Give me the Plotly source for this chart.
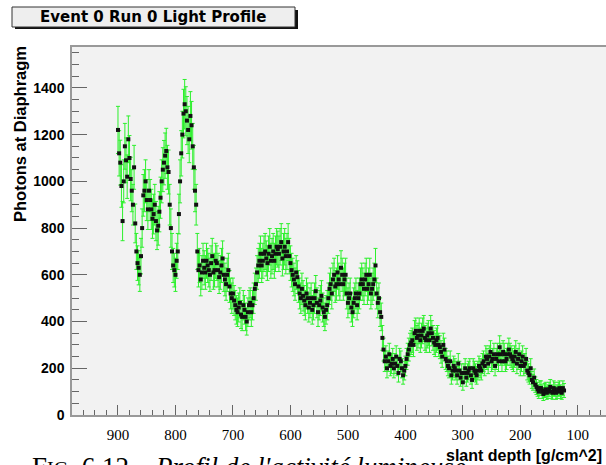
import plotly.graph_objects as go

DEPTH = [
    900, 896, 892, 888, 884, 880, 876, 872, 868, 864,
    860, 856, 852, 848, 844, 840, 836, 832, 828, 824,
    820, 816, 812, 808, 804, 800, 796, 792, 788, 784,
    780, 776, 772, 768, 764, 760, 756, 752, 748, 744,
    740, 736, 732, 728, 724, 720, 716, 712, 708, 704,
    700, 696, 692, 688, 684, 680, 676, 672, 668, 664,
    660, 656, 652, 648, 644, 640, 636, 632, 628, 624,
    620, 616, 612, 608, 604, 600, 596, 592, 588, 584,
    580, 576, 572, 568, 564, 560, 556, 552, 548, 544,
    540, 536, 532, 528, 524, 520, 516, 512, 508, 504,
    500, 496, 492, 488, 484, 480, 476, 472, 468, 464,
    460, 456, 452, 448, 444, 440, 436, 432, 428, 424,
    420, 416, 412, 408, 404, 400, 396, 392, 388, 384,
    380, 376, 372, 368, 364, 360, 356, 352, 348, 344,
    340, 336, 332, 328, 324, 320, 316, 312, 308, 304,
    300, 296, 292, 288, 284, 280, 276, 272, 268, 264,
    260, 256, 252, 248, 244, 240, 236, 232, 228, 224,
    220, 216, 212, 208, 204, 200, 196, 192, 188, 184,
    180, 176, 172, 168, 164, 160, 156, 152, 148, 144,
    140, 136, 132, 128, 124,
]

PHOTONS = [
    1220, 1080, 830, 1150, 1020, 1100, 960, 1060, 700, 630,
    680, 940, 1000, 880, 920, 840, 900, 790, 870, 1000,
    1080, 1130, 1040, 800, 640, 600, 700, 1000, 1200, 1330,
    1260, 1180, 1240, 1060, 900, 620, 580, 660, 610, 640,
    600, 680, 620, 650, 590, 640, 600, 560, 620, 520,
    520, 470, 440, 480, 420, 450, 400, 470, 440, 500,
    560, 640, 690, 660, 700, 650, 720, 680, 660, 720,
    690, 740, 700, 680, 740, 650, 600, 560, 590, 520,
    540, 490, 520, 460, 500, 470, 530, 440, 490, 460,
    420, 470, 540, 520, 600, 560, 580, 630, 560, 600,
    480, 520, 440, 500, 470, 520, 580, 540, 600, 560,
    520, 560, 640, 480, 440, 330, 230, 200, 260, 220,
    200, 250, 180, 230, 170, 210, 260, 300, 320, 350,
    330, 360, 340, 370, 320, 350, 370, 330, 300, 330,
    290, 250, 280, 230, 200, 170, 210, 190, 220, 160,
    140, 200, 180, 200, 150, 190, 170, 210, 190, 230,
    250, 220, 270, 240, 210, 260, 290, 230, 260, 240,
    280, 250, 230, 270, 240, 210, 250, 220, 190, 170,
    150, 160, 120, 100, 115, 90, 110, 100, 120, 95,
    110, 100, 115, 95, 105,
]

ERRORS = [
    101, 96, 84, 98, 93, 96, 90, 94, 77, 73,
    76, 89, 92, 86, 88, 84, 87, 82, 86, 92,
    95, 97, 94, 82, 73, 71, 77, 92, 100, 106,
    103, 100, 102, 94, 87, 72, 70, 75, 72, 73,
    71, 76, 72, 74, 70, 73, 71, 69, 72, 66,
    66, 63, 61, 64, 59, 61, 58, 63, 61, 65,
    69, 73, 76, 75, 77, 74, 78, 76, 75, 78,
    76, 79, 77, 76, 79, 74, 71, 69, 70, 66,
    67, 64, 66, 62, 65, 63, 67, 61, 64, 62,
    59, 63, 67, 66, 71, 69, 70, 73, 69, 71,
    64, 66, 61, 65, 63, 66, 70, 67, 71, 69,
    66, 69, 73, 64, 61, 53, 44, 41, 47, 43,
    41, 46, 39, 44, 38, 42, 47, 50, 52, 54,
    53, 55, 53, 56, 52, 54, 56, 53, 50, 53,
    49, 46, 49, 44, 41, 38, 42, 40, 43, 37,
    34, 41, 39, 41, 36, 40, 38, 42, 40, 44,
    46, 43, 48, 45, 42, 47, 49, 44, 47, 45,
    49, 46, 44, 48, 45, 42, 46, 43, 40, 38,
    36, 37, 32, 29, 31, 28, 30, 29, 32, 28,
    30, 29, 31, 28, 30,
]

DEPTH_MID = [
    898, 894, 890, 886, 882, 878, 874, 870, 866, 862,
    858, 854, 850, 846, 842, 838, 834, 830, 826, 822,
    818, 814, 810, 806, 802, 798, 794, 790, 786, 782,
    778, 774, 770, 766, 762, 758, 754, 750, 746, 742,
    738, 734, 730, 726, 722, 718, 714, 710, 706, 702,
    698, 694, 690, 686, 682, 678, 674, 670, 666, 662,
    658, 654, 650, 646, 642, 638, 634, 630, 626, 622,
    618, 614, 610, 606, 602, 598, 594, 590, 586, 582,
    578, 574, 570, 566, 562, 558, 554, 550, 546, 542,
    538, 534, 530, 526, 522, 518, 514, 510, 506, 502,
    498, 494, 490, 486, 482, 478, 474, 470, 466, 462,
    458, 454, 450, 446, 442, 438, 434, 430, 426, 422,
    418, 414, 410, 406, 402, 398, 394, 390, 386, 382,
    378, 374, 370, 366, 362, 358, 354, 350, 346, 342,
    338, 334, 330, 326, 322, 318, 314, 310, 306, 302,
    298, 294, 290, 286, 282, 278, 274, 270, 266, 262,
    258, 254, 250, 246, 242, 238, 234, 230, 226, 222,
    218, 214, 210, 206, 202, 198, 194, 190, 186, 182,
    178, 174, 170, 166, 162, 158, 154, 150, 146, 142,
    138, 134, 130, 126,
]

PHOTONS_MID = [
    1120, 980, 1000, 1090, 1180, 1010, 900, 820, 650, 600,
    800, 960, 920, 960, 880, 860, 830, 810, 930, 1050,
    1110, 1060, 900, 700, 620, 660, 860, 1120, 1290, 1300,
    1220, 1280, 1150, 960, 700, 640, 610, 630, 660, 620,
    650, 610, 660, 620, 610, 670, 580, 600, 550, 500,
    490, 450, 460, 430, 470, 420, 440, 480, 470, 540,
    610, 660, 640, 690, 670, 690, 660, 700, 690, 710,
    720, 670, 720, 700, 680, 620, 580, 610, 550, 500,
    510, 470, 500, 480, 450, 500, 480, 470, 510, 440,
    450, 500, 560, 580, 550, 610, 560, 600, 580, 520,
    500, 460, 480, 520, 500, 560, 560, 580, 540, 600,
    540, 580, 520, 500, 420, 280, 250, 230, 210, 240,
    220, 210, 240, 200, 190, 240, 280, 310, 300, 360,
    340, 320, 360, 330, 340, 320, 350, 310, 320, 300,
    270, 300, 240, 210, 230, 190, 200, 170, 190, 180,
    180, 160, 190, 170, 200, 180, 190, 200, 220, 210,
    240, 250, 230, 260, 240, 230, 260, 270, 230, 260,
    260, 240, 250, 220, 260, 230, 210, 240, 180, 200,
    140, 130, 110, 115, 100, 105, 95, 110, 100, 115,
    95, 110, 100, 115,
]

ERRORS_MID = [
    97, 91, 92, 96, 100, 93, 87, 83, 74, 71,
    82, 90, 88, 90, 86, 85, 84, 83, 88, 94,
    97, 94, 87, 77, 72, 75, 85, 97, 104, 105,
    101, 104, 98, 90, 77, 73, 72, 73, 75, 72,
    74, 72, 75, 72, 72, 75, 70, 71, 68, 65,
    64, 61, 62, 60, 63, 59, 61, 64, 63, 67,
    72, 75, 73, 76, 75, 76, 75, 77, 76, 77,
    78, 75, 78, 77, 76, 72, 70, 72, 68, 65,
    65, 63, 65, 64, 61, 65, 64, 63, 65, 61,
    61, 65, 69, 70, 68, 72, 69, 71, 70, 66,
    65, 62, 64, 66, 65, 69, 69, 70, 67, 71,
    67, 70, 66, 65, 59, 49, 46, 44, 42, 45,
    43, 42, 45, 41, 40, 45, 49, 51, 50, 55,
    53, 52, 55, 53, 53, 52, 54, 51, 52, 50,
    48, 50, 45, 42, 44, 40, 41, 38, 40, 39,
    39, 37, 40, 38, 41, 39, 40, 41, 43, 42,
    45, 46, 44, 47, 45, 44, 47, 48, 44, 47,
    47, 45, 46, 43, 47, 44, 42, 45, 39, 41,
    34, 33, 30, 31, 29, 30, 28, 30, 29, 31,
    28, 30, 29, 31,
]

X_TICKS = [900, 800, 700, 600, 500, 400, 300, 200, 100]
Y_TICKS = [0, 200, 400, 600, 800, 1000, 1200, 1400]

TITLE = "Event 0 Run 0 Light Profile"
X_TITLE = "slant depth [g/cm^2]"
Y_TITLE = "Photons at Diaphragm"
CAPTION = "F<span style='font-size:20px'>IG</span>. 6.12 – <i>Profil de l'activité lumineuse</i>"

W, H = 606, 465
L, R, T, B = 72, 0, 47, 50
PW, PH = W - L - R, H - T - B


def px(x):
    return (x - L) / PW


def py(y):
    return (H - B - y) / PH


fig = go.Figure()
fig.add_trace(go.Scatter(
    x=DEPTH + DEPTH_MID, y=PHOTONS + PHOTONS_MID, mode="markers",
    marker=dict(symbol="square", size=4, color="#111111", line=dict(width=0)),
    error_y=dict(type="data", array=ERRORS + ERRORS_MID, visible=True, color="#2cf02c",
                 thickness=1, width=2),
    showlegend=False, hoverinfo="x+y",
))

sans = "Liberation Sans, Arial, sans-serif"

fig.update_layout(
    width=W, height=H,
    margin=dict(l=L, r=R, t=T, b=B, pad=0),
    paper_bgcolor="white",
    plot_bgcolor="#f2f2f2",
    xaxis=dict(
        range=[980, 51], tickmode="array", tickvals=X_TICKS,
        ticktext=[str(v) for v in X_TICKS],
        ticks="inside", ticklen=10, tickwidth=1, tickcolor="#666666",
        minor=dict(dtick=20, tick0=0, ticks="inside", ticklen=5, tickcolor="#666666", tickwidth=1),
        showgrid=False, zeroline=False,
        showline=True, linecolor="#999999", linewidth=1.5, mirror=True,
        tickfont=dict(family="Liberation Serif, serif", size=15, color="black"),
        ticklabelstandoff=5, automargin=False,
    ),
    yaxis=dict(
        range=[0, 1575], tickmode="array", tickvals=Y_TICKS,
        ticktext=["<b>%d</b>" % v for v in Y_TICKS],
        ticks="inside", ticklen=15, tickwidth=1, tickcolor="#666666",
        minor=dict(dtick=50, tick0=0, ticks="inside", ticklen=7, tickcolor="#666666", tickwidth=1),
        showgrid=False, zeroline=False,
        showline=True, linecolor="#999999", linewidth=1.5, mirror=True,
        tickfont=dict(family=sans, size=14, color="black"),
        ticklabelstandoff=3, automargin=False,
    ),
)

# Title box with shadow
fig.add_shape(type="rect", xref="paper", yref="paper",
              x0=px(15), x1=px(298), y0=py(29), y1=py(10),
              fillcolor="#111111", line=dict(width=0), layer="above")
fig.add_shape(type="rect", xref="paper", yref="paper",
              x0=px(12), x1=px(295), y0=py(27), y1=py(7),
              fillcolor="#eeeeee", line=dict(color="#333333", width=1), layer="above")
fig.add_annotation(text="<b>%s</b>" % TITLE, xref="paper", yref="paper",
                   x=px(153), y=py(17), xanchor="center", yanchor="middle",
                   showarrow=False,
                   font=dict(family="DejaVu Sans, sans-serif", size=15, color="black"))

# Axis titles (ROOT style: aligned to axis ends)
fig.add_annotation(text="<b>%s</b>" % Y_TITLE, xref="paper", yref="paper",
                   x=px(20), y=py(134), xanchor="center", yanchor="middle",
                   textangle=-90, showarrow=False,
                   font=dict(family=sans, size=16.5, color="black"))
fig.add_annotation(text="<b>%s</b>" % X_TITLE, xref="paper", yref="paper",
                   x=px(604), y=py(455), xanchor="right", yanchor="middle",
                   showarrow=False,
                   font=dict(family=sans, size=16, color="black"))

# Caption cut off at the bottom edge
fig.add_annotation(text=CAPTION, xref="paper", yref="paper",
                   x=px(30), y=py(450), xanchor="left", yanchor="top",
                   showarrow=False,
                   font=dict(family="Liberation Serif, serif", size=27, color="black"))

fig.write_html(
    "out.html",
    config={"displayModeBar": False},
    post_script="document.body.style.margin='0';document.body.style.overflow='hidden';",
)
